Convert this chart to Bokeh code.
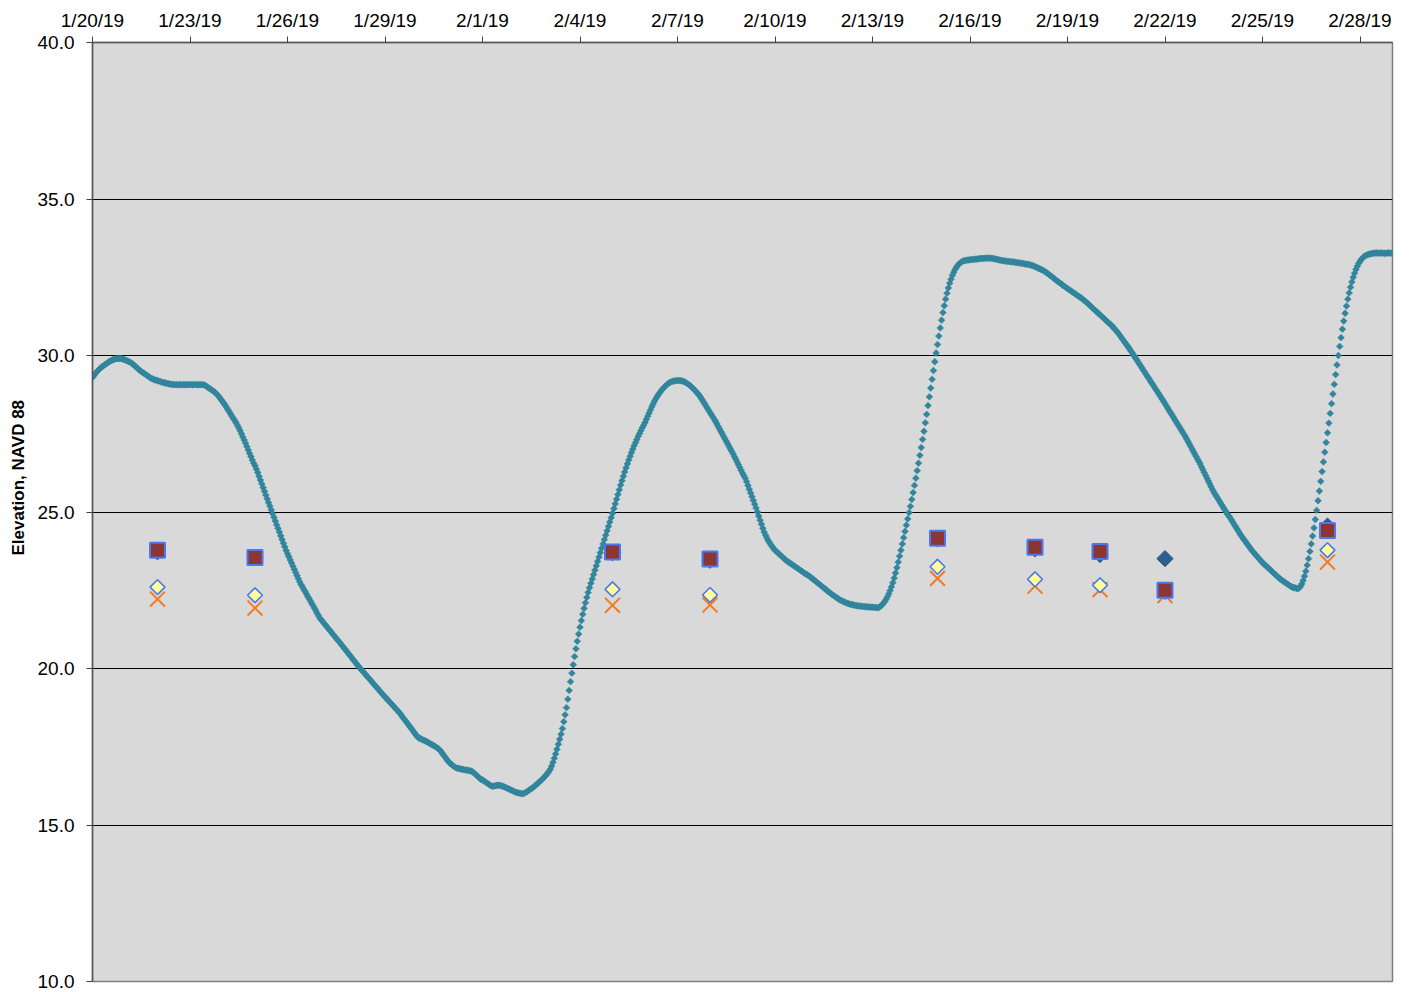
import numpy as np
import pandas as pd
from bokeh.plotting import figure
from bokeh.models import (ColumnDataSource, FixedTicker, Range1d, Title,
                          SingleIntervalTicker, PrintfTickFormatter)
from bokeh.embed import file_html
from bokeh.resources import INLINE

# ---------------- data ----------------
tick_dates = ["2019-01-20", "2019-01-23", "2019-01-26", "2019-01-29", "2019-02-01",
              "2019-02-04", "2019-02-07", "2019-02-10", "2019-02-13", "2019-02-16",
              "2019-02-19", "2019-02-22", "2019-02-25", "2019-02-28"]
tick_labels = ["1/20/19", "1/23/19", "1/26/19", "1/29/19", "2/1/19", "2/4/19", "2/7/19",
               "2/10/19", "2/13/19", "2/16/19", "2/19/19", "2/22/19", "2/25/19", "2/28/19"]

series_start = "2019-01-20 00:00"   # hourly readings
elevation_hourly = [
    29.30, 29.36, 29.42, 29.47, 29.52, 29.56, 29.60, 29.64, 29.67, 29.70, 29.73, 29.76, 29.79, 29.82, 29.84, 29.86, 29.88, 29.89, 29.90, 29.90, 29.90, 29.90, 29.89, 29.88,
    29.86, 29.84, 29.82, 29.80, 29.78, 29.75, 29.72, 29.68, 29.64, 29.60, 29.56, 29.52, 29.49, 29.46, 29.43, 29.40, 29.37, 29.34, 29.31, 29.28, 29.26, 29.24, 29.22, 29.21,
    29.20, 29.18, 29.17, 29.15, 29.14, 29.13, 29.12, 29.11, 29.10, 29.09, 29.08, 29.08, 29.07, 29.07, 29.07, 29.06, 29.07, 29.07, 29.06, 29.07, 29.07, 29.06, 29.07, 29.07,
    29.07, 29.07, 29.06, 29.07, 29.07, 29.07, 29.06, 29.07, 29.07, 29.06, 29.07, 29.05, 29.02, 28.99, 28.96, 28.93, 28.90, 28.87, 28.84, 28.80, 28.76, 28.71, 28.65, 28.59,
    28.53, 28.47, 28.41, 28.34, 28.27, 28.20, 28.13, 28.06, 27.99, 27.92, 27.85, 27.77, 27.69, 27.60, 27.50, 27.40, 27.30, 27.20, 27.09, 26.98, 26.87, 26.77, 26.66, 26.56,
    26.48, 26.37, 26.26, 26.14, 26.02, 25.90, 25.78, 25.66, 25.54, 25.42, 25.30, 25.19, 25.07, 24.95, 24.83, 24.71, 24.59, 24.48, 24.36, 24.24, 24.12, 24.00, 23.89, 23.77,
    23.67, 23.57, 23.47, 23.37, 23.27, 23.17, 23.07, 22.97, 22.87, 22.77, 22.68, 22.61, 22.53, 22.46, 22.38, 22.30, 22.23, 22.15, 22.07, 22.00, 21.92, 21.84, 21.76, 21.68,
    21.60, 21.55, 21.50, 21.44, 21.39, 21.34, 21.28, 21.23, 21.18, 21.12, 21.07, 21.02, 20.96, 20.91, 20.86, 20.81, 20.75, 20.70, 20.64, 20.59, 20.53, 20.48, 20.42, 20.37,
    20.31, 20.26, 20.20, 20.15, 20.09, 20.04, 19.99, 19.94, 19.89, 19.84, 19.79, 19.74, 19.69, 19.64, 19.59, 19.54, 19.49, 19.44, 19.39, 19.34, 19.29, 19.24, 19.19, 19.14,
    19.09, 19.05, 19.00, 18.95, 18.90, 18.86, 18.81, 18.76, 18.71, 18.67, 18.62, 18.57, 18.51, 18.45, 18.39, 18.34, 18.28, 18.22, 18.16, 18.11, 18.05, 17.99, 17.93, 17.87,
    17.82, 17.78, 17.76, 17.74, 17.72, 17.70, 17.68, 17.66, 17.63, 17.61, 17.58, 17.56, 17.54, 17.51, 17.48, 17.45, 17.42, 17.37, 17.31, 17.25, 17.19, 17.13, 17.07, 17.02,
    16.98, 16.94, 16.90, 16.87, 16.84, 16.82, 16.81, 16.80, 16.79, 16.78, 16.77, 16.76, 16.75, 16.75, 16.74, 16.73, 16.72, 16.69, 16.65, 16.61, 16.57, 16.53, 16.49, 16.45,
    16.44, 16.41, 16.38, 16.35, 16.32, 16.29, 16.26, 16.24, 16.24, 16.25, 16.26, 16.27, 16.27, 16.26, 16.25, 16.24, 16.22, 16.20, 16.18, 16.16, 16.14, 16.12, 16.10, 16.08,
    16.06, 16.04, 16.03, 16.02, 16.01, 16.00, 16.00, 16.02, 16.04, 16.07, 16.10, 16.13, 16.16, 16.19, 16.22, 16.26, 16.30, 16.34, 16.38, 16.42, 16.46, 16.50, 16.55, 16.60,
    16.65, 16.71, 16.78, 16.88, 17.00, 17.13, 17.27, 17.42, 17.58, 17.74, 17.90, 18.08, 18.30, 18.52, 18.75, 19.02, 19.30, 19.58, 19.85, 20.12, 20.38, 20.63, 20.87, 21.10,
    21.32, 21.53, 21.73, 21.92, 22.10, 22.27, 22.43, 22.58, 22.72, 22.86, 23.00, 23.14, 23.28, 23.42, 23.56, 23.70, 23.84, 23.98, 24.12, 24.26, 24.40, 24.54, 24.68, 24.82,
    24.96, 25.11, 25.26, 25.41, 25.56, 25.71, 25.86, 26.00, 26.14, 26.28, 26.41, 26.54, 26.66, 26.78, 26.90, 27.01, 27.12, 27.22, 27.32, 27.42, 27.51, 27.60, 27.69, 27.77,
    27.86, 27.96, 28.06, 28.16, 28.26, 28.36, 28.45, 28.54, 28.62, 28.69, 28.76, 28.82, 28.88, 28.93, 28.98, 29.02, 29.06, 29.10, 29.13, 29.15, 29.17, 29.18, 29.19, 29.20,
    29.20, 29.20, 29.20, 29.19, 29.18, 29.16, 29.14, 29.11, 29.08, 29.05, 29.01, 28.97, 28.93, 28.88, 28.83, 28.78, 28.73, 28.67, 28.60, 28.53, 28.46, 28.39, 28.32, 28.25,
    28.18, 28.11, 28.04, 27.97, 27.90, 27.82, 27.74, 27.66, 27.58, 27.50, 27.42, 27.34, 27.26, 27.18, 27.10, 27.02, 26.94, 26.86, 26.77, 26.69, 26.60, 26.51, 26.42, 26.33,
    26.24, 26.16, 26.08, 25.97, 25.85, 25.73, 25.61, 25.49, 25.37, 25.25, 25.13, 25.00, 24.87, 24.74, 24.61, 24.48, 24.36, 24.26, 24.17, 24.09, 24.02, 23.95, 23.89, 23.83,
    23.78, 23.74, 23.70, 23.66, 23.62, 23.58, 23.54, 23.50, 23.46, 23.43, 23.40, 23.37, 23.34, 23.31, 23.28, 23.25, 23.22, 23.19, 23.16, 23.13, 23.10, 23.07, 23.04, 23.01,
    22.99, 22.96, 22.93, 22.89, 22.86, 22.82, 22.79, 22.75, 22.72, 22.68, 22.65, 22.61, 22.58, 22.54, 22.51, 22.47, 22.44, 22.40, 22.37, 22.34, 22.31, 22.28, 22.25, 22.22,
    22.19, 22.17, 22.15, 22.13, 22.11, 22.09, 22.08, 22.06, 22.05, 22.04, 22.03, 22.02, 22.01, 22.00, 22.00, 21.99, 21.99, 21.98, 21.98, 21.97, 21.97, 21.97, 21.96, 21.96,
    21.96, 21.95, 21.95, 21.95, 21.94, 21.96, 21.99, 22.03, 22.08, 22.14, 22.21, 22.29, 22.38, 22.49, 22.61, 22.74, 22.89, 23.05, 23.22, 23.40, 23.59, 23.78, 23.98, 24.18,
    24.38, 24.58, 24.78, 24.98, 25.18, 25.40, 25.62, 25.85, 26.08, 26.32, 26.56, 26.81, 27.06, 27.32, 27.58, 27.85, 28.12, 28.40, 28.68, 28.96, 29.24, 29.52, 29.80, 30.08,
    30.35, 30.62, 30.88, 31.13, 31.37, 31.59, 31.80, 31.99, 32.16, 32.31, 32.44, 32.56, 32.66, 32.75, 32.82, 32.88, 32.93, 32.97, 33.00, 33.02, 33.03, 33.04, 33.05, 33.05,
    33.06, 33.06, 33.07, 33.07, 33.08, 33.08, 33.09, 33.09, 33.10, 33.10, 33.10, 33.11, 33.11, 33.11, 33.11, 33.11, 33.10, 33.10, 33.09, 33.08, 33.07, 33.06, 33.05, 33.04,
    33.03, 33.02, 33.02, 33.01, 33.01, 33.00, 33.00, 32.99, 32.99, 32.98, 32.97, 32.97, 32.96, 32.95, 32.95, 32.94, 32.93, 32.92, 32.92, 32.91, 32.90, 32.89, 32.87, 32.86,
    32.84, 32.82, 32.80, 32.78, 32.76, 32.74, 32.72, 32.69, 32.66, 32.63, 32.60, 32.57, 32.53, 32.50, 32.46, 32.43, 32.39, 32.36, 32.33, 32.30, 32.26, 32.23, 32.20, 32.17,
    32.14, 32.11, 32.08, 32.05, 32.02, 31.99, 31.96, 31.93, 31.90, 31.87, 31.84, 31.81, 31.77, 31.74, 31.70, 31.66, 31.62, 31.58, 31.54, 31.50, 31.46, 31.42, 31.38, 31.34,
    31.30, 31.26, 31.22, 31.18, 31.14, 31.10, 31.06, 31.02, 30.98, 30.94, 30.89, 30.84, 30.79, 30.74, 30.68, 30.62, 30.56, 30.50, 30.44, 30.38, 30.32, 30.26, 30.20, 30.13,
    30.07, 30.00, 29.93, 29.87, 29.80, 29.73, 29.67, 29.60, 29.53, 29.47, 29.40, 29.33, 29.27, 29.20, 29.13, 29.07, 29.00, 28.93, 28.87, 28.80, 28.73, 28.67, 28.60, 28.53,
    28.46, 28.39, 28.32, 28.25, 28.18, 28.11, 28.04, 27.97, 27.90, 27.83, 27.76, 27.69, 27.62, 27.55, 27.48, 27.41, 27.33, 27.25, 27.17, 27.09, 27.01, 26.93, 26.85, 26.77,
    26.69, 26.61, 26.53, 26.44, 26.35, 26.26, 26.17, 26.08, 25.99, 25.90, 25.81, 25.72, 25.64, 25.57, 25.50, 25.43, 25.36, 25.29, 25.22, 25.15, 25.08, 25.01, 24.94, 24.88,
    24.82, 24.75, 24.68, 24.61, 24.54, 24.47, 24.40, 24.33, 24.26, 24.20, 24.14, 24.08, 24.02, 23.96, 23.90, 23.84, 23.78, 23.73, 23.68, 23.63, 23.58, 23.53, 23.48, 23.43,
    23.38, 23.34, 23.30, 23.26, 23.22, 23.18, 23.14, 23.10, 23.06, 23.02, 22.98, 22.94, 22.90, 22.86, 22.83, 22.80, 22.77, 22.74, 22.71, 22.68, 22.65, 22.62, 22.60, 22.58,
    22.58, 22.56, 22.55, 22.57, 22.62, 22.70, 22.81, 22.95, 23.11, 23.30, 23.51, 23.74, 23.98, 24.23, 24.49, 24.76, 25.05, 25.36, 25.67, 25.98, 26.29, 26.60, 26.91, 27.22,
    27.53, 27.84, 28.15, 28.46, 28.77, 29.08, 29.39, 29.70, 30.00, 30.29, 30.57, 30.84, 31.10, 31.35, 31.58, 31.80, 32.00, 32.18, 32.35, 32.50, 32.63, 32.75, 32.85, 32.94,
    33.01, 33.07, 33.12, 33.16, 33.19, 33.21, 33.23, 33.24, 33.25, 33.26, 33.27, 33.27, 33.28, 33.27, 33.27, 33.28, 33.27, 33.27, 33.26, 33.27, 33.27, 33.28, 33.27, 33.27,
]

sample_dates = ["2019-01-22", "2019-01-25", "2019-02-05", "2019-02-08", "2019-02-15",
                "2019-02-18", "2019-02-20", "2019-02-22", "2019-02-27"]
square_vals = [23.78, 23.55, 23.72, 23.50, 24.16, 23.87, 23.74, 22.50, 24.41]
dark_diamond_vals = [23.73, 23.55, 23.70, 23.46, 24.14, 23.82, 23.64, 23.51, 24.55]
yellow_diamond_vals = [22.60, 22.34, 22.53, 22.35, 23.25, 22.85, 22.66, 22.45, 23.78]
x_vals = [22.22, 21.93, 22.02, 22.03, 22.88, 22.63, 22.52, 22.33, 23.40]

y_label = "Elevation, NAVD 88"

# ---------------- figure ----------------
FONT = "Liberation Sans"
x_start = pd.Timestamp("2019-01-20")
x_end = pd.Timestamp("2019-03-01")

p = figure(width=1402, height=992, x_axis_type="datetime", x_axis_location="above",
           x_range=Range1d(x_start, x_end), y_range=Range1d(10, 40),
           output_backend="svg", toolbar_location=None,
           min_border_left=92, min_border_top=42, min_border_right=10, min_border_bottom=11)

p.background_fill_color = "#D9D9D9"
p.border_fill_color = "white"
p.outline_line_color = "#7F7F7F"
p.outline_line_width = 1.5

tick_ms = [int(pd.Timestamp(d).value // 10**6) for d in tick_dates]
p.xaxis.ticker = FixedTicker(ticks=tick_ms)
p.xaxis.major_label_overrides = {ms: lab for ms, lab in zip(tick_ms, tick_labels)}
p.yaxis.ticker = SingleIntervalTicker(interval=5, num_minor_ticks=0)
p.yaxis.formatter = PrintfTickFormatter(format="%.1f")

for ax in (p.xaxis[0], p.yaxis[0]):
    ax.axis_line_color = "#595959"
    ax.axis_line_width = 1.5
    ax.major_tick_line_color = "#404040"
    ax.major_tick_in = 0
    ax.major_tick_out = 6
    ax.minor_tick_line_color = None
    ax.major_label_text_font = FONT
    ax.major_label_text_font_size = "19px"
    ax.major_label_text_color = "black"
p.xaxis.major_label_standoff = 6
p.yaxis.major_label_standoff = 12

p.xgrid.visible = False
p.ygrid.grid_line_color = "black"
p.ygrid.grid_line_width = 1

# hourly series
src = ColumnDataSource(dict(
    t=pd.date_range(series_start, periods=len(elevation_hourly), freq="h"),
    v=elevation_hourly))
p.scatter("t", "v", source=src, marker="square", angle=np.pi / 4, size=4.8,
          fill_color="#31859C", line_color="#31859C", line_width=0.5)

sd = pd.to_datetime(sample_dates)
BLUE = "#4A78F0"
p.scatter(sd, x_vals, marker="x", size=21, line_color="#F47920", line_width=2)
p.scatter(sd, yellow_diamond_vals, marker="square", angle=np.pi / 4, size=10.5,
          fill_color="#FFFF99", line_color=BLUE, line_width=1.6)
p.scatter(sd, dark_diamond_vals, marker="square", angle=np.pi / 4, size=11.5,
          fill_color="#2F5D8C", line_color="#2F5D8C", line_width=1)
p.scatter(sd, square_vals, marker="square", size=15,
          fill_color="#8B3535", line_color=BLUE, line_width=2)

p.add_layout(Title(text=y_label, align="left", offset=426, standoff=13,
                   text_font=FONT, text_font_size="17px", text_font_style="bold",
                   text_color="black"), "left")

open("out.html", "w").write(file_html(p, INLINE))
